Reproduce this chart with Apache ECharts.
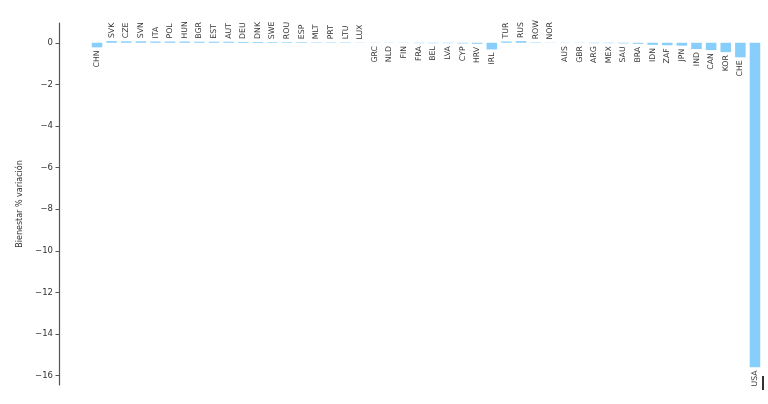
<!DOCTYPE html>
<html>
<head>
<meta charset="utf-8">
<script src="https://cdn.jsdelivr.net/npm/echarts@6/dist/echarts.min.js"></script>
<style>
  html, body { margin: 0; padding: 0; background: #fff; }
  #chart { width: 768px; height: 404px; }
</style>
</head>
<body>
<div id="chart"></div>
<script>
  const countries = [
    'CHN', 'SVK', 'CZE', 'SVN', 'ITA', 'POL', 'HUN', 'BGR', 'EST', 'AUT',
    'DEU', 'DNK', 'SWE', 'ROU', 'ESP', 'MLT', 'PRT', 'LTU', 'LUX', 'GRC',
    'NLD', 'FIN', 'FRA', 'BEL', 'LVA', 'CYP', 'HRV', 'IRL', 'TUR', 'RUS',
    'ROW', 'NOR', 'AUS', 'GBR', 'ARG', 'MEX', 'SAU', 'BRA', 'IDN', 'ZAF',
    'JPN', 'IND', 'CAN', 'KOR', 'CHE', 'USA'
  ]
  const welfareChange = [
    -0.22, 0.08, 0.07, 0.07, 0.06, 0.06, 0.06, 0.05, 0.05, 0.05,
    0.04, 0.04, 0.03, 0.03, 0.03, 0.02, 0.02, 0.02, 0.01, -0.01,
    -0.01, -0.01, -0.02, -0.02, -0.02, -0.03, -0.05, -0.32, 0.06, 0.08,
    0.02, 0.01, -0.01, -0.01, -0.02, -0.02, -0.03, -0.05, -0.1, -0.12,
    -0.14, -0.3, -0.35, -0.45, -0.7, -15.6
  ]
  const yTicks = [0, -2, -4, -6, -8, -10, -12, -14, -16]
  const yName = 'Bienestar % variación'

  const font = 'DejaVu Sans'
  const myChart = echarts.init(document.getElementById('chart'))

  // label above positive bars, below negative ones
  const barData = welfareChange.map(v => ({
    value: v,
    label: {
      position: v >= 0 ? 'top' : 'bottom',
      align: v >= 0 ? 'left' : 'right'
    }
  }))

  myChart.setOption({
    animation: false,
    grid: { left: 89.7, right: 5.7, top: 23, bottom: 19 },
    xAxis: {
      type: 'category',
      data: countries,
      show: false
    },
    yAxis: {
      type: 'value',
      min: -16.45,
      max: 0.95,
      offset: 30.7,
      name: yName,
      nameLocation: 'middle',
      nameRotate: 90,
      nameGap: 29,
      nameTextStyle: { fontFamily: font, fontSize: 8, color: '#333' },
      splitLine: { show: false },
      axisLine: { show: true, lineStyle: { color: '#555', width: 1.2 } },
      axisTick: {
        show: true,
        length: 3.5,
        customValues: yTicks,
        lineStyle: { color: '#555' }
      },
      axisLabel: {
        customValues: yTicks,
        fontFamily: font,
        fontSize: 8.5,
        color: '#333',
        margin: 6,
        formatter: v => (v < 0 ? '\u2212' + (-v) : String(v))
      }
    },
    series: [
      {
        type: 'bar',
        data: barData,
        barWidth: '72%',
        itemStyle: { color: '#87cefa' },
        label: {
          show: true,
          formatter: '{b}',
          rotate: 90,
          verticalAlign: 'middle',
          distance: 3,
          fontFamily: font,
          fontSize: 7.8,
          color: '#333'
        }
      }
    ],
    graphic: [
      {
        type: 'rect',
        shape: { x: 762, y: 376, width: 2, height: 14 },
        style: { fill: '#333' }
      }
    ]
  })
</script>
</body>
</html>
